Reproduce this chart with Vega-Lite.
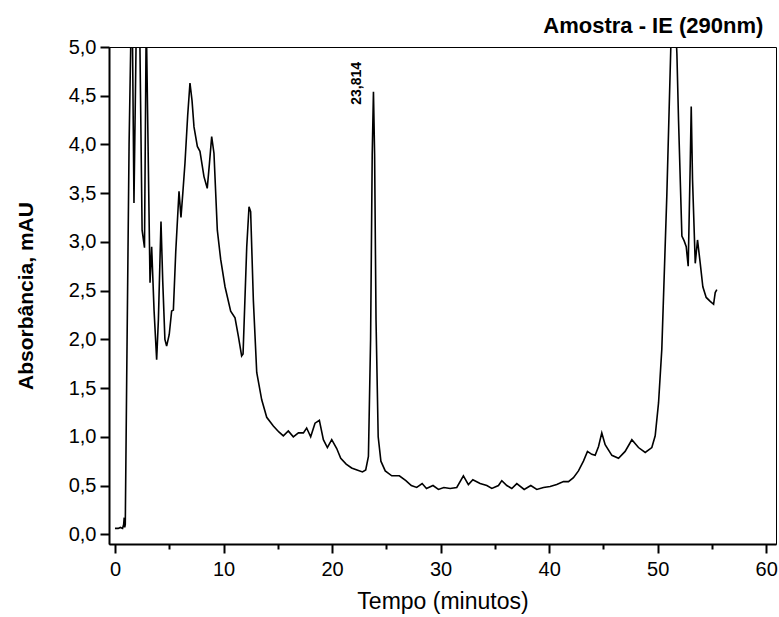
{
  "$schema": "https://vega.github.io/schema/vega-lite/v6.json",
  "width": 667,
  "height": 497,
  "autosize": {"type": "none"},
  "padding": {"left": 109, "top": 47, "right": 3, "bottom": 73},
  "background": "white",
  "config": {"view": {"stroke": "black", "strokeWidth": 1}, "font": "Liberation Sans"},
  "title": {"text": "Amostra - IE (290nm)", "anchor": "end", "dx": -14, "offset": -18, "baseline": "alphabetic", "fontSize": 22, "fontWeight": "bold", "font": "Liberation Sans", "color": "black"},
  "layer": [
    {
      "data": {"values": [
        {"t": 0.0, "a": 0.06}, {"t": 0.3, "a": 0.06}, {"t": 0.5, "a": 0.07}, {"t": 0.7, "a": 0.06}, {"t": 0.8, "a": 0.1}, {"t": 0.85, "a": 0.17}, {"t": 0.9, "a": 0.07},
        {"t": 0.95, "a": 0.1}, {"t": 1.08, "a": 1.59}, {"t": 1.3, "a": 4.0}, {"t": 1.45, "a": 5.0}, {"t": 1.52, "a": 5.6}, {"t": 1.62, "a": 5.0}, {"t": 1.75, "a": 3.4},
        {"t": 1.94, "a": 5.0}, {"t": 2.05, "a": 5.8}, {"t": 2.2, "a": 5.5}, {"t": 2.3, "a": 5.0}, {"t": 2.5, "a": 3.12}, {"t": 2.72, "a": 2.94}, {"t": 2.86, "a": 5.0},
        {"t": 2.89, "a": 5.5}, {"t": 2.92, "a": 5.0}, {"t": 3.23, "a": 2.58}, {"t": 3.38, "a": 2.95}, {"t": 3.6, "a": 2.3}, {"t": 3.84, "a": 1.79}, {"t": 4.0, "a": 2.2},
        {"t": 4.24, "a": 3.21}, {"t": 4.4, "a": 2.6}, {"t": 4.6, "a": 2.0}, {"t": 4.76, "a": 1.93}, {"t": 5.0, "a": 2.05}, {"t": 5.22, "a": 2.29}, {"t": 5.38, "a": 2.3},
        {"t": 5.6, "a": 2.9}, {"t": 5.9, "a": 3.52}, {"t": 6.08, "a": 3.25}, {"t": 6.25, "a": 3.5}, {"t": 6.45, "a": 3.81}, {"t": 6.7, "a": 4.3}, {"t": 6.91, "a": 4.63},
        {"t": 7.1, "a": 4.45}, {"t": 7.28, "a": 4.18}, {"t": 7.59, "a": 3.98}, {"t": 7.83, "a": 3.93}, {"t": 8.2, "a": 3.67}, {"t": 8.5, "a": 3.55}, {"t": 8.7, "a": 3.8},
        {"t": 8.91, "a": 4.08}, {"t": 9.12, "a": 3.91}, {"t": 9.43, "a": 3.12}, {"t": 9.74, "a": 2.82}, {"t": 10.14, "a": 2.54}, {"t": 10.66, "a": 2.29}, {"t": 11.06, "a": 2.22},
        {"t": 11.37, "a": 2.03}, {"t": 11.67, "a": 1.83}, {"t": 11.8, "a": 1.85}, {"t": 12.14, "a": 2.95}, {"t": 12.35, "a": 3.36}, {"t": 12.5, "a": 3.31}, {"t": 12.75, "a": 2.4},
        {"t": 13.06, "a": 1.66}, {"t": 13.52, "a": 1.38}, {"t": 13.98, "a": 1.2}, {"t": 14.59, "a": 1.11}, {"t": 15.1, "a": 1.05}, {"t": 15.51, "a": 1.01}, {"t": 15.97, "a": 1.06},
        {"t": 16.43, "a": 1.0}, {"t": 16.9, "a": 1.04}, {"t": 17.36, "a": 1.04}, {"t": 17.66, "a": 1.09}, {"t": 18.03, "a": 1.0}, {"t": 18.43, "a": 1.14}, {"t": 18.83, "a": 1.17},
        {"t": 19.2, "a": 0.97}, {"t": 19.57, "a": 0.89}, {"t": 19.97, "a": 0.97}, {"t": 20.43, "a": 0.88}, {"t": 20.8, "a": 0.78}, {"t": 21.3, "a": 0.72}, {"t": 21.8, "a": 0.68},
        {"t": 22.3, "a": 0.66}, {"t": 22.8, "a": 0.64}, {"t": 23.1, "a": 0.66}, {"t": 23.35, "a": 0.8}, {"t": 23.55, "a": 2.0}, {"t": 23.7, "a": 3.9}, {"t": 23.814, "a": 4.54},
        {"t": 23.92, "a": 3.9}, {"t": 24.05, "a": 2.2}, {"t": 24.25, "a": 1.0}, {"t": 24.5, "a": 0.75}, {"t": 24.9, "a": 0.65}, {"t": 25.5, "a": 0.6}, {"t": 26.2, "a": 0.6},
        {"t": 26.8, "a": 0.55}, {"t": 27.3, "a": 0.5}, {"t": 27.8, "a": 0.48}, {"t": 28.3, "a": 0.52}, {"t": 28.7, "a": 0.47}, {"t": 29.3, "a": 0.5}, {"t": 29.8, "a": 0.46},
        {"t": 30.3, "a": 0.48}, {"t": 30.88, "a": 0.47}, {"t": 31.49, "a": 0.48}, {"t": 32.1, "a": 0.6}, {"t": 32.56, "a": 0.51}, {"t": 32.97, "a": 0.56}, {"t": 33.64, "a": 0.52},
        {"t": 34.26, "a": 0.5}, {"t": 34.72, "a": 0.47}, {"t": 35.33, "a": 0.5}, {"t": 35.64, "a": 0.55}, {"t": 36.1, "a": 0.5}, {"t": 36.56, "a": 0.47}, {"t": 37.02, "a": 0.52},
        {"t": 37.7, "a": 0.46}, {"t": 38.31, "a": 0.5}, {"t": 38.86, "a": 0.46}, {"t": 39.48, "a": 0.48}, {"t": 40.09, "a": 0.49}, {"t": 40.7, "a": 0.51}, {"t": 41.32, "a": 0.54},
        {"t": 41.78, "a": 0.54}, {"t": 42.24, "a": 0.58}, {"t": 42.7, "a": 0.65}, {"t": 43.16, "a": 0.75}, {"t": 43.53, "a": 0.85}, {"t": 43.93, "a": 0.82}, {"t": 44.24, "a": 0.81},
        {"t": 44.55, "a": 0.9}, {"t": 44.85, "a": 1.04}, {"t": 45.16, "a": 0.92}, {"t": 45.78, "a": 0.81}, {"t": 46.39, "a": 0.78}, {"t": 47.0, "a": 0.85}, {"t": 47.62, "a": 0.97},
        {"t": 48.23, "a": 0.89}, {"t": 48.85, "a": 0.84}, {"t": 49.46, "a": 0.89}, {"t": 49.77, "a": 1.01}, {"t": 50.08, "a": 1.35}, {"t": 50.38, "a": 1.9}, {"t": 50.84, "a": 3.47},
        {"t": 51.21, "a": 5.0}, {"t": 51.45, "a": 5.6}, {"t": 51.7, "a": 5.1}, {"t": 51.77, "a": 4.93}, {"t": 51.92, "a": 4.25}, {"t": 52.23, "a": 3.06}, {"t": 52.44, "a": 3.01},
        {"t": 52.63, "a": 2.95}, {"t": 52.81, "a": 2.75}, {"t": 53.0, "a": 3.81}, {"t": 53.09, "a": 4.39}, {"t": 53.21, "a": 3.64}, {"t": 53.46, "a": 2.78}, {"t": 53.67, "a": 3.02},
        {"t": 53.92, "a": 2.78}, {"t": 54.16, "a": 2.54}, {"t": 54.47, "a": 2.43}, {"t": 54.84, "a": 2.39}, {"t": 55.15, "a": 2.36}, {"t": 55.3, "a": 2.48}, {"t": 55.45, "a": 2.51}
      ]},
      "mark": {"type": "line", "color": "black", "strokeWidth": 1.6, "clip": true},
      "encoding": {
        "x": {
          "field": "t", "type": "quantitative",
          "scale": {"domain": [-0.55, 60.9], "nice": false, "zero": false},
          "axis": {
            "title": "Tempo (minutos)",
            "values": [0, 5, 10, 15, 20, 25, 30, 35, 40, 45, 50, 55, 60],
            "labelExpr": "datum.value % 10 === 0 ? datum.label : ''",
            "tickSize": {"condition": {"test": "datum.value % 10 === 0", "value": 9}, "value": 5},
            "tickWidth": 2, "tickColor": "black", "domainColor": "black", "domainWidth": 2,
            "grid": false, "labelFontSize": 20, "labelColor": "black", "labelPadding": 6,
            "labelFont": "Liberation Sans", "titleFont": "Liberation Sans",
            "titleFontSize": 23, "titleFontWeight": "normal", "titleColor": "black", "titlePadding": 11
          }
        },
        "y": {
          "field": "a", "type": "quantitative",
          "scale": {"domain": [-0.1, 5.0], "nice": false, "zero": false},
          "axis": {
            "title": "Absorbância, mAU",
            "values": [0, 0.25, 0.5, 0.75, 1, 1.25, 1.5, 1.75, 2, 2.25, 2.5, 2.75, 3, 3.25, 3.5, 3.75, 4, 4.25, 4.5, 4.75, 5],
            "labelExpr": "abs(datum.value*2 - round(datum.value*2)) < 0.001 ? replace(format(datum.value, '.1f'), '.', ',') : ''",
            "tickSize": {"condition": {"test": "abs(datum.value*2 - round(datum.value*2)) < 0.001", "value": 9}, "value": 5},
            "tickWidth": 2, "tickColor": "black", "domainColor": "black", "domainWidth": 2,
            "grid": false, "labelFontSize": 20, "labelColor": "black", "labelPadding": 4,
            "labelFont": "Liberation Sans", "titleFont": "Liberation Sans",
            "titleFontSize": 21, "titleFontWeight": "bold", "titleColor": "black", "titlePadding": 32
          }
        }
      }
    },
    {
      "data": {"values": [{"t": 23.814, "a": 4.54, "label": "23,814"}]},
      "mark": {"type": "text", "angle": 270, "align": "left", "baseline": "middle", "dx": -13, "dy": -16, "fontSize": 14, "fontWeight": "bold", "font": "Liberation Sans", "color": "black"},
      "encoding": {
        "x": {"field": "t", "type": "quantitative"},
        "y": {"field": "a", "type": "quantitative"},
        "text": {"field": "label"}
      }
    }
  ]
}
